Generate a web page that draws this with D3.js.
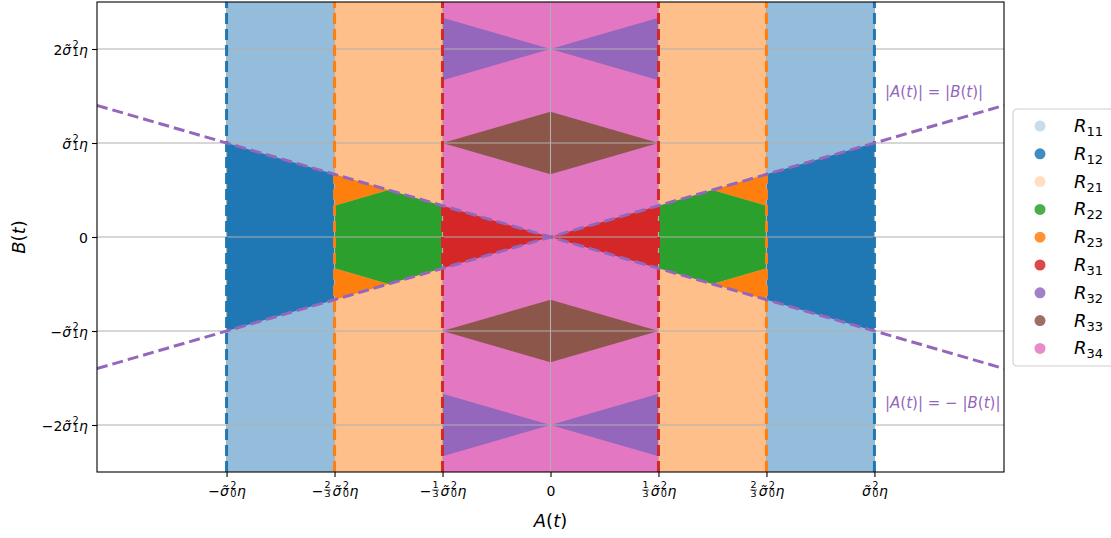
<!DOCTYPE html>
<html>
<head>
<meta charset="utf-8">
<script src="https://cdn.jsdelivr.net/npm/d3@7"></script>
<style>
  html, body { margin: 0; padding: 0; background: #fff; }
  svg text { font-family: "DejaVu Sans", sans-serif; }
</style>
</head>
<body>
<svg id="chart" width="1111" height="538"></svg>
<script>
// A in units of s0^2*eta, B in units of s1^2*eta
const xDomain = [-1.4, 1.4]
const yDomain = [-2.5, 2.5]
const xTicks = [-1, -2 / 3, -1 / 3, 0, 1 / 3, 2 / 3, 1]
const yTicks = [-2, -1, 0, 1, 2]

const regionNames = ['11', '12', '21', '22', '23', '31', '32', '33', '34']

// vertical bands (A-range) filled first
const bandR11 = [[-1, -2 / 3], [2 / 3, 1]]
const bandR21 = [[-2 / 3, -1 / 3], [1 / 3, 2 / 3]]
const bandR34 = [[-1 / 3, 1 / 3]]

// shapes laid on top, vertices as [A, B]
const polyR12 = [
    [[-1, -1], [-1, 1], [-2 / 3, 2 / 3], [-2 / 3, -2 / 3]],
    [[1, -1], [1, 1], [2 / 3, 2 / 3], [2 / 3, -2 / 3]]
]
const polyR23 = [
    [[-2 / 3, 2 / 3], [-2 / 3, 1 / 3], [-1 / 2, 1 / 2]],
    [[-2 / 3, -2 / 3], [-2 / 3, -1 / 3], [-1 / 2, -1 / 2]],
    [[2 / 3, 2 / 3], [2 / 3, 1 / 3], [1 / 2, 1 / 2]],
    [[2 / 3, -2 / 3], [2 / 3, -1 / 3], [1 / 2, -1 / 2]]
]
const polyR22 = [
    [[-2 / 3, 1 / 3], [-1 / 2, 1 / 2], [-1 / 3, 1 / 3], [-1 / 3, -1 / 3], [-1 / 2, -1 / 2], [-2 / 3, -1 / 3]],
    [[2 / 3, 1 / 3], [1 / 2, 1 / 2], [1 / 3, 1 / 3], [1 / 3, -1 / 3], [1 / 2, -1 / 2], [2 / 3, -1 / 3]]
]
const polyR31 = [
    [[-1 / 3, 1 / 3], [0, 0], [-1 / 3, -1 / 3]],
    [[1 / 3, 1 / 3], [0, 0], [1 / 3, -1 / 3]]
]
const polyR32 = [
    [[-1 / 3, 7 / 3], [0, 2], [-1 / 3, 5 / 3]],
    [[1 / 3, 7 / 3], [0, 2], [1 / 3, 5 / 3]],
    [[-1 / 3, -5 / 3], [0, -2], [-1 / 3, -7 / 3]],
    [[1 / 3, -5 / 3], [0, -2], [1 / 3, -7 / 3]]
]
const polyR33 = [
    [[-1 / 3, 1], [0, 4 / 3], [1 / 3, 1], [0, 2 / 3]],
    [[-1 / 3, -1], [0, -2 / 3], [1 / 3, -1], [0, -4 / 3]]
]

// boundary lines
const vLinesA = [-1, -2 / 3, -1 / 3, 1 / 3, 2 / 3, 1]
const vLineColors = ['#1f77b4', '#ff7f0e', '#d62728', '#d62728', '#ff7f0e', '#1f77b4']
const diagLines = [[[-1.4, 1.4], [1.4, -1.4]], [[-1.4, -1.4], [1.4, 1.4]]]

const C = {
    '11': '#94bddb', '12': '#1f77b4', '21': '#ffbf8a', '22': '#2ca02c', '23': '#ff7f0e',
    '31': '#d62728', '32': '#9467bd', '33': '#8c564b', '34': '#e377c2'
}

const L = 97, R = 1004, T = 2, B = 472
const x = d3.scaleLinear().domain(xDomain).range([L, R])
const y = d3.scaleLinear().domain(yDomain).range([B, T])

const svg = d3.select('#chart')
svg.append('defs').append('clipPath').attr('id', 'clip')
    .append('rect').attr('x', L).attr('y', T).attr('width', R - L).attr('height', B - T)

const plot = svg.append('g').attr('clip-path', 'url(#clip)')

function drawBands(bands, col) {
    plot.append('g').selectAll('rect').data(bands).join('rect')
        .attr('x', function (d) { return x(d[0]) }).attr('width', function (d) { return x(d[1]) - x(d[0]) })
        .attr('y', y(yDomain[1])).attr('height', y(yDomain[0]) - y(yDomain[1]))
        .attr('fill', col).attr('shape-rendering', 'crispEdges')
}
function drawPolys(polys, col) {
    plot.append('g').selectAll('path').data(polys).join('path')
        .attr('d', function (d) { return 'M' + d.map(function (p) { return x(p[0]) + ',' + y(p[1]) }).join('L') + 'Z' })
        .attr('fill', col)
}
drawBands(bandR11, C['11'])
drawBands(bandR21, C['21'])
drawBands(bandR34, C['34'])
drawPolys(polyR12, C['12'])
drawPolys(polyR23, C['23'])
drawPolys(polyR22, C['22'])
drawPolys(polyR31, C['31'])
drawPolys(polyR32, C['32'])
drawPolys(polyR33, C['33'])

// grid
plot.append('g').selectAll('line').data(xTicks).join('line')
    .attr('x1', function (d) { return x(d) }).attr('x2', function (d) { return x(d) })
    .attr('y1', T).attr('y2', B).attr('stroke', '#b0b0b0').attr('stroke-width', 1.1)
plot.append('g').selectAll('line').data(yTicks).join('line')
    .attr('y1', function (d) { return y(d) }).attr('y2', function (d) { return y(d) })
    .attr('x1', L).attr('x2', R).attr('stroke', '#b0b0b0').attr('stroke-width', 1.1)

// dashed boundaries
plot.append('g').selectAll('line').data(vLinesA).join('line')
    .attr('x1', function (d) { return x(d) }).attr('x2', function (d) { return x(d) })
    .attr('y1', y(yDomain[0])).attr('y2', y(yDomain[1]))
    .attr('stroke', function (d, i) { return vLineColors[i] })
    .attr('stroke-width', 3).attr('stroke-dasharray', '11,5')
plot.append('g').selectAll('line').data(diagLines).join('line')
    .attr('x1', function (d) { return x(d[0][0]) }).attr('y1', function (d) { return y(d[0][1]) })
    .attr('x2', function (d) { return x(d[1][0]) }).attr('y2', function (d) { return y(d[1][1]) })
    .attr('stroke', '#9467bd').attr('stroke-width', 3).attr('stroke-dasharray', '11,5')

// frame
svg.append('rect').attr('x', L).attr('y', T).attr('width', R - L).attr('height', B - T)
    .attr('fill', 'none').attr('stroke', '#000').attr('stroke-width', 1.1)

// mathtext-ish label: one text element, tspans placed by hand
function mathLabel(parent, tokens, anchor, fs) {
    var g = parent.append('g')
    var inner = g.append('g').attr('fill', '#000').attr('text-anchor', 'start')
        .attr('font-family', '"DejaVu Sans", sans-serif')
    function measure(str, size, it) {
        var tmp = inner.append('text').attr('font-size', size).attr('font-style', it ? 'italic' : 'normal').text(str)
        var w = tmp.node().getComputedTextLength()
        tmp.remove()
        return w
    }
    var txt = inner.append('text').attr('font-size', fs)
    var s = fs * 0.7
    var cx = 0
    tokens.forEach(function (tk) {
        if (tk.t !== undefined) {
            txt.append('tspan').attr('x', cx).attr('y', 0).attr('font-style', tk.i ? 'italic' : 'normal').text(tk.t)
            cx += measure(tk.t, fs, tk.i)
        } else if (tk.fr) {
            var fsz = fs * 0.68
            var w1 = measure(tk.fr[0], fsz), w2 = measure(tk.fr[1], fsz)
            var w = Math.max(w1, w2) + 2
            txt.append('tspan').attr('font-size', fsz).attr('x', cx + (w - w1) / 2).attr('y', -fs * 0.55).text(tk.fr[0])
            txt.append('tspan').attr('font-size', fsz).attr('x', cx + (w - w2) / 2).attr('y', fs * 0.08).text(tk.fr[1])
            inner.append('line').attr('x1', cx + 0.5).attr('x2', cx + w - 0.5)
                .attr('y1', -fs * 0.43).attr('y2', -fs * 0.43).attr('stroke', '#000').attr('stroke-width', 0.6)
            cx += w + 1
        } else if (tk.sig) {
            txt.append('tspan').attr('x', cx).attr('y', 0).attr('font-style', 'italic').text('σ\u0303')
            cx += measure('σ', fs, true) + 1.2
            txt.append('tspan').attr('font-size', s).attr('x', cx).attr('y', -fs * 0.47).text('2')
            txt.append('tspan').attr('font-size', s).attr('x', cx).attr('y', fs * 0.1).text(tk.sig)
            cx += Math.max(measure('2', s), measure(tk.sig, s)) + 0.5
        }
    })
    var shift = anchor === 'middle' ? -cx / 2 : anchor === 'end' ? -cx : 0
    inner.attr('transform', 'translate(' + shift + ',0)')
    return g
}

const eta = { t: 'η', i: 1 }
const xTickLabels = [
    [{ t: '−' }, { sig: '0' }, eta],
    [{ t: '−' }, { fr: ['2', '3'] }, { sig: '0' }, eta],
    [{ t: '−' }, { fr: ['1', '3'] }, { sig: '0' }, eta],
    [{ t: '0' }],
    [{ fr: ['1', '3'] }, { sig: '0' }, eta],
    [{ fr: ['2', '3'] }, { sig: '0' }, eta],
    [{ sig: '0' }, eta]
]
const yTickLabels = [
    [{ t: '−2' }, { sig: '1' }, eta],
    [{ t: '−' }, { sig: '1' }, eta],
    [{ t: '0' }],
    [{ sig: '1' }, eta],
    [{ t: '2' }, { sig: '1' }, eta]
]

// axes with ticks
const xAxis = svg.append('g').attr('transform', 'translate(0,' + B + ')')
    .call(d3.axisBottom(x).tickValues(xTicks).tickSize(5).tickSizeOuter(0).tickFormat(''))
xAxis.select('.domain').remove()
xAxis.selectAll('.tick text').remove()
xAxis.selectAll('.tick line').attr('stroke', '#000').attr('stroke-width', 1.1)
xAxis.selectAll('.tick').each(function (d, i) {
    mathLabel(d3.select(this), xTickLabels[i], 'middle', 14).attr('transform', 'translate(0,24)')
})

const yAxis = svg.append('g').attr('transform', 'translate(' + L + ',0)')
    .call(d3.axisLeft(y).tickValues(yTicks).tickSize(5).tickSizeOuter(0).tickFormat(''))
yAxis.select('.domain').remove()
yAxis.selectAll('.tick text').remove()
yAxis.selectAll('.tick line').attr('stroke', '#000').attr('stroke-width', 1.1)
yAxis.selectAll('.tick').each(function (d, i) {
    mathLabel(d3.select(this), yTickLabels[i], 'end', 14).attr('transform', 'translate(-9,5)')
})

// axis titles
const xt = svg.append('text').attr('x', x(0)).attr('y', 527).attr('text-anchor', 'middle').attr('font-size', 18)
xt.append('tspan').attr('font-style', 'italic').text('A')
xt.append('tspan').text('(')
xt.append('tspan').attr('font-style', 'italic').text('t')
xt.append('tspan').text(')')
const yt = svg.append('text').attr('transform', 'translate(25,' + y(0) + ') rotate(-90)')
    .attr('text-anchor', 'middle').attr('font-size', 18)
yt.append('tspan').attr('font-style', 'italic').text('B')
yt.append('tspan').text('(')
yt.append('tspan').attr('font-style', 'italic').text('t')
yt.append('tspan').text(')')

// annotations
function absLabel(px, py, neg) {
    var t = svg.append('text').attr('x', px).attr('y', py).attr('font-size', 15).attr('fill', '#9467bd')
    t.append('tspan').text('|')
    t.append('tspan').attr('font-style', 'italic').text('A')
    t.append('tspan').text('(')
    t.append('tspan').attr('font-style', 'italic').text('t')
    t.append('tspan').text(')| = ' + (neg ? '− ' : '') + '|')
    t.append('tspan').attr('font-style', 'italic').text('B')
    t.append('tspan').text('(')
    t.append('tspan').attr('font-style', 'italic').text('t')
    t.append('tspan').text(')|')
}
absLabel(885, 97, false)
absLabel(885, 408, true)

// legend
const lg = svg.append('g').attr('transform', 'translate(1013,109)')
lg.append('rect').attr('width', 110).attr('height', 257).attr('rx', 4)
    .attr('fill', '#fff').attr('fill-opacity', 0.8).attr('stroke', '#d0d0d0').attr('stroke-width', 1.1)
const li = lg.selectAll('g.item').data(regionNames).join('g').attr('class', 'item')
    .attr('transform', function (d, i) { return 'translate(0,' + (17 + i * 27.8) + ')' })
li.append('circle').attr('cx', 27).attr('cy', 0).attr('r', 5.5)
    .attr('fill', function (d) { return d === '11' ? '#1f77b4' : d === '21' ? '#ff7f0e' : C[d] })
    .attr('fill-opacity', function (d) { return (d === '11' || d === '21') ? 0.25 : 0.85 })
const lt = li.append('text').attr('x', 61).attr('y', 6).attr('font-size', 18)
lt.append('tspan').attr('font-style', 'italic').text('R')
lt.append('tspan').attr('font-size', 13).attr('dy', 4).text(function (d) { return d })
</script>
</body>
</html>
